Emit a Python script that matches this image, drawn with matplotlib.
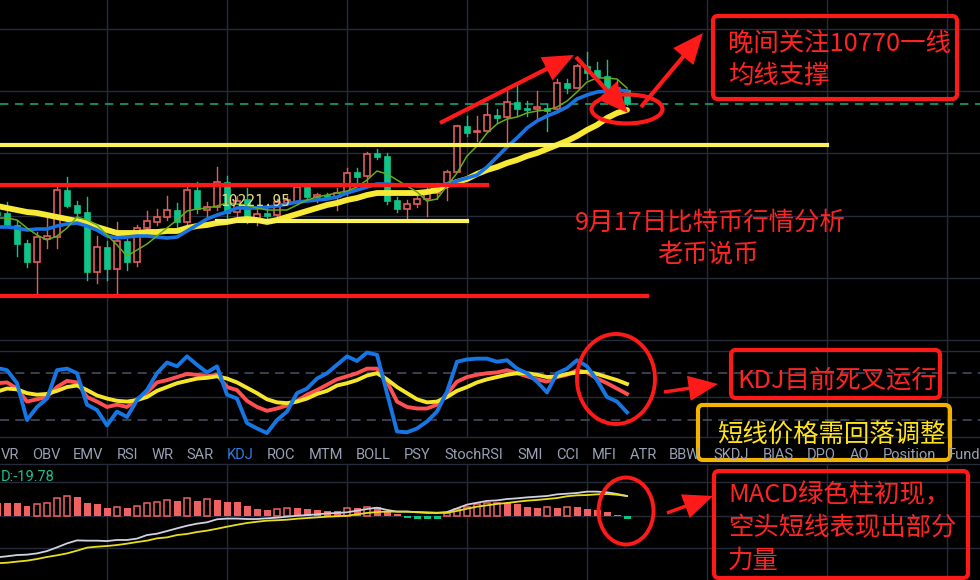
import numpy as np
import matplotlib
matplotlib.use("Agg")
import matplotlib.pyplot as plt
from matplotlib.patches import Rectangle, Ellipse, FancyBboxPatch, FancyArrowPatch

W, H = 980, 580

# ---------------- price data (index -1 .. 62) ----------------
opens = [10190, 10185, 10125, 10035, 9940, 10055, 10065, 10300, 10225, 10190, 9890, 10015, 9905, 10045,
         9940, 10110, 10140, 10165, 10200, 10140, 10300, 10200, 10215, 10340, 10190, 10255, 10150, 10185,
         10175, 10235, 10240, 10315, 10265, 10275, 10265, 10285, 10390, 10370, 10485, 10470, 10250, 10205,
         10230, 10255, 10285, 10325, 10390, 10620, 10590, 10595, 10675, 10665, 10740, 10710, 10705, 10710,
         10705, 10835, 10810, 10920, 10900, 10870, 10790, 10800]
highs = [10200, 10240, 10150, 10050, 10090, 10160, 10325, 10365, 10245, 10265, 10070, 10045, 10140, 10055,
         10125, 10195, 10205, 10270, 10235, 10335, 10340, 10240, 10415, 10370, 10270, 10310, 10205, 10220,
         10255, 10270, 10320, 10320, 10285, 10285, 10310, 10410, 10410, 10490, 10505, 10485, 10265, 10250,
         10270, 10315, 10335, 10400, 10625, 10670, 10670, 10735, 10705, 10795, 10825, 10745, 10795, 10730,
         10855, 10855, 10930, 10990, 10940, 10950, 10850, 10805]
lows = [10160, 10115, 9970, 9915, 9785, 10010, 10010, 10215, 10170, 9850, 9835, 9850, 9775, 9900,
        9920, 10075, 10125, 10150, 10105, 10130, 10185, 10160, 10200, 10150, 10170, 10135, 10125, 10155,
        10160, 10225, 10230, 10255, 10240, 10255, 10200, 10275, 10340, 10340, 10455, 10230, 10190, 10155,
        10215, 10170, 10255, 10250, 10390, 10570, 10545, 10590, 10635, 10535, 10670, 10670, 10655, 10595,
        10700, 10785, 10810, 10855, 10860, 10790, 10775, 10725]
closes = [10175, 10125, 10030, 9940, 10065, 10070, 10300, 10220, 10185, 9890, 10015, 9905, 10045, 9940,
          10110, 10145, 10165, 10200, 10140, 10300, 10205, 10215, 10340, 10185, 10245, 10155, 10180, 10170,
          10240, 10250, 10315, 10265, 10275, 10265, 10285, 10385, 10365, 10480, 10465, 10245, 10205, 10230,
          10255, 10285, 10325, 10390, 10620, 10585, 10595, 10675, 10660, 10740, 10705, 10700, 10715, 10695,
          10835, 10810, 10920, 10885, 10865, 10805, 10810, 10730]

ma5 = [10160, 10160, 10150, 10110, 10075, 10050, 10070, 10110, 10165, 10150, 10125, 10075, 10025, 9970,
       10000, 10030, 10070, 10110, 10150, 10195, 10205, 10210, 10220, 10235, 10230, 10225, 10210, 10200,
       10200, 10200, 10225, 10250, 10265, 10275, 10285, 10295, 10315, 10350, 10395, 10380, 10350, 10320,
       10290, 10245, 10255, 10320, 10385, 10470, 10520, 10585, 10630, 10655, 10665, 10685, 10695, 10700,
       10715, 10745, 10790, 10840, 10860, 10860, 10855, 10810]
ma10 = [10115, 10115, 10110, 10100, 10105, 10105, 10120, 10130, 10135, 10120, 10100, 10070, 10060, 10065,
        10070, 10070, 10065, 10060, 10065, 10095, 10125, 10155, 10175, 10190, 10210, 10210, 10210, 10215,
        10220, 10230, 10240, 10245, 10250, 10255, 10265, 10285, 10300, 10315, 10330, 10330, 10325, 10325,
        10320, 10320, 10320, 10330, 10345, 10360, 10375, 10415, 10465, 10515, 10560, 10610, 10645, 10670,
        10690, 10715, 10755, 10775, 10790, 10795, 10800, 10795]
ma30 = [10220, 10210, 10200, 10190, 10185, 10175, 10165, 10155, 10145, 10135, 10115, 10100, 10085, 10085,
        10085, 10090, 10090, 10095, 10095, 10110, 10120, 10125, 10135, 10140, 10150, 10155, 10150, 10140,
        10150, 10165, 10180, 10195, 10210, 10225, 10235, 10250, 10260, 10275, 10285, 10285, 10285, 10285,
        10285, 10290, 10300, 10325, 10340, 10355, 10380, 10400, 10415, 10435, 10450, 10470, 10485, 10505,
        10525, 10545, 10570, 10600, 10625, 10660, 10685, 10700]

# ---------------- KDJ ----------------
kdj_k = [68, 69, 61, 44, 47, 50, 63, 71, 69, 50, 44, 37, 40, 37, 47, 56, 69, 72, 76, 80, 79, 77, 79, 63,
         59, 45, 37, 32, 35, 39, 45, 53, 59, 66, 73, 77, 81, 87, 87, 70, 44, 37, 35, 35, 40, 54, 70, 76,
         79, 81, 82, 85, 81, 77, 73, 70, 76, 79, 85, 82, 74, 68, 61, 54]
kdj_d = [57, 61, 60, 55, 53, 54, 58, 63, 65, 59, 52, 48, 45, 44, 46, 50, 58, 63, 68, 71, 74, 75, 77, 74,
         69, 62, 55, 47, 43, 42, 44, 48, 54, 58, 65, 68, 72, 78, 81, 73, 63, 55, 47, 43, 44, 50, 58, 63,
         69, 73, 76, 79, 81, 81, 79, 76, 77, 80, 82, 83, 80, 76, 72, 67]
kdj_j = [88, 85, 68, 20, 37, 48, 85, 87, 81, 40, 33, 13, 31, 24, 46, 59, 81, 95, 90, 103, 92, 82, 90, 53,
         48, 16, 9, 3, 20, 31, 55, 61, 74, 81, 92, 103, 97, 108, 105, 55, 5, 4, 9, 18, 31, 57, 96, 99,
         100, 100, 96, 98, 87, 81, 70, 56, 81, 87, 98, 90, 72, 50, 44, 30]

# ---------------- MACD ----------------
macd_hist = [97, 97, 96, 73, 85, 93, 129, 146, 142, 97, 85, 56, 64, 56, 73, 93, 104, 117, 110, 129, 112,
             122, 117, 104, 103, 73, 49, 44, 49, 56, 55, 49, 44, 39, 38, 56, 55, 68, 67, 31, 15, -15, -20,
             -20, -19, 20, 49, 68, 88, 93, 97, 96, 88, 68, 56, 64, 56, 64, 63, 49, 44, 27, 7, -19.78]
macd_dif = [-302, -294, -285, -282, -273, -256, -229, -200, -178, -180, -180, -183, -175, -175, -165, -139,
            -129, -110, -90, -71, -56, -46, -24, -19, -19, -22, -22, -17, -12, -5, 2, 7, 12, 19, 22, 27,
            39, 51, 61, 44, 32, 32, 29, 27, 24, 29, 56, 83, 97, 110, 114, 124, 129, 136, 141, 146, 158,
            163, 168, 178, 178, 173, 161, 146]
macd_dea = [-345, -341, -333, -326, -314, -299, -287, -273, -253, -231, -224, -219, -212, -202, -190, -180,
            -163, -156, -139, -131, -117, -107, -93, -78, -64, -51, -42, -34, -31, -27, -20, -15, -10, -5,
            -2, 2, 12, 22, 29, 32, 32, 32, 27, 22, 22, 24, 37, 53, 68, 78, 88, 95, 104, 112, 117, 124, 131,
            144, 151, 153, 158, 161, 155, 146]

indicator_tabs = ["VR", "OBV", "EMV", "RSI", "WR", "SAR", "KDJ", "ROC", "MTM", "BOLL", "PSY", "StochRSI",
                  "SMI", "CCI", "MFI", "ATR", "BBW", "SKDJ", "BIAS", "DPO", "AO", "Position", "Fund"]
tab_x = [1, 32, 73, 117, 152, 186, 227, 267, 309, 356, 404, 444, 517, 556, 592, 630, 669, 713, 763,
         807, 850, 883, 948]

support_low_label = "10221.95"

# ---------------- styling ----------------
BG = "#000000"
GRID = "#262b3b"
UP = "#e35d5d"
DOWN = "#10c48a"
RED = "#ff1a1a"
TXT_RED = "#ff2424"

plt.rcParams["font.family"] = ["Noto Sans CJK SC", "DejaVu Sans"]

fig = plt.figure(figsize=(W / 100, H / 100), dpi=100, facecolor=BG)

x = np.arange(-1, len(opens) - 1)


def px_axes(top, bottom, z=1):
    a = fig.add_axes([0, 1 - bottom / H, 1, (bottom - top) / H])
    a.set_facecolor("none")
    a.set_axis_off()
    a.set_zorder(z)
    a.set_xlim(-0.7, 97.3)
    return a


def pix(a):
    a.set_xlim(0, W)
    a.set_ylim(H, 0)


# background grid layer
bg = fig.add_axes([0, 0, 1, 1])
bg.set_facecolor(BG)
bg.set_axis_off()
pix(bg)
bg.set_zorder(0)
for gx in [107, 227, 347, 467, 587, 707, 827, 947]:
    bg.plot([gx, gx], [0, 437], color=GRID, lw=1)
    bg.plot([gx, gx], [464, 580], color=GRID, lw=1)
for gy in [29, 91, 153, 216, 278, 340, 351, 397, 437, 464, 482, 516, 548]:
    bg.plot([0, W], [gy, gy], color=GRID, lw=1)
for gy in [373, 420]:
    bg.plot([0, W], [gy, gy], color="#4a5068", lw=1.1, dashes=(6, 4))

# ---------------- candlestick panel ----------------
ax = px_axes(0, 341)
ax.set_ylim(11250 - 5 * 341, 11250)


def ix(px):
    return (px - 7) / 10.0


for xi, o, h, l, c in zip(x, opens, highs, lows, closes):
    up = c >= o
    col = UP if up else DOWN
    lo_b, hi_b = min(o, c), max(o, c)
    ax.plot([xi, xi], [l, lo_b], color=col, lw=1, zorder=2)
    ax.plot([xi, xi], [hi_b, h], color=col, lw=1, zorder=2)
    body = max(hi_b - lo_b, 4)
    if up:
        ax.add_patch(Rectangle((xi - 0.28, lo_b), 0.56, body, facecolor=BG, edgecolor=col, lw=1.2, zorder=3))
    else:
        ax.add_patch(Rectangle((xi - 0.3, lo_b), 0.6, body, facecolor=col, edgecolor=col, lw=0.5, zorder=3))

ax.plot(x, ma30, color="#f8ea34", lw=4.2, zorder=4, solid_capstyle="round")
ax.plot(x, ma10, color="#1874e2", lw=2.6, zorder=5, solid_capstyle="round")
ax.plot(x, ma5, color="#64ad18", lw=1.1, zorder=6)

# last price line
ax.plot([-0.7, 97.3], [closes[-1], closes[-1]], color="#13a275", lw=1.2, dashes=(5, 4), zorder=1)

# support / resistance levels
ax.plot([-0.7, ix(827)], [10525, 10525], color="#fbf25a", lw=3, zorder=7)
ax.plot([-0.7, ix(487)], [10325, 10325], color=RED, lw=3, zorder=7)
ax.plot([ix(217), ix(467)], [10145, 10145], color="#fbf25a", lw=3, zorder=7)
ax.plot([-0.7, ix(647)], [9770, 9770], color=RED, lw=3, zorder=7)

# ---------------- KDJ panel ----------------
kx = px_axes(341, 437)
kx.set_ylim(50 - 40 / 0.767, 50 + 56 / 0.767)
kx.plot(x, kdj_k, color="#ff4f52", lw=2.8, solid_joinstyle="round")
kx.plot(x, kdj_d, color="#f6e62a", lw=2.8, solid_joinstyle="round")
kx.plot(x, kdj_j, color="#1677e4", lw=2.8, solid_joinstyle="round")

# ---------------- MACD panel ----------------
mx = px_axes(464, 580)
mx.set_ylim((516 - 580) * 7.3, (516 - 464) * 7.3)
prev = None
for xi, v in zip(x, macd_hist):
    if v >= 0:
        hollow = prev is not None and v > prev
        if hollow:
            mx.add_patch(Rectangle((xi - 0.32, 0), 0.64, v, facecolor=BG, edgecolor="#ee6262", lw=1.1, zorder=2))
        else:
            mx.add_patch(Rectangle((xi - 0.35, 0), 0.7, v, facecolor="#ee6262", edgecolor="none", zorder=2))
    else:
        mx.add_patch(Rectangle((xi - 0.35, v), 0.7, -v, facecolor="#10c48a", edgecolor="none", zorder=2))
    prev = v
mx.plot(x, macd_dif, color="#cfd2e2", lw=1.3, zorder=3)
mx.plot(x, macd_dea, color="#e8de1c", lw=1.3, zorder=3)

# ---------------- annotation layer ----------------
ov = fig.add_axes([0, 0, 1, 1])
ov.set_facecolor("none")
ov.set_axis_off()
pix(ov)
ov.set_zorder(5)

for name, tx in zip(indicator_tabs, tab_x):
    ov.text(tx, 455, name, fontsize=10.5, family=["Roboto", "DejaVu Sans"],
            color="#2f7de1" if name == "KDJ" else "#9aa0b4", ha="left", va="center")

ov.text(1, 477, f"D:{macd_hist[-1]:.2f}", fontsize=10.5, family=["Roboto", "DejaVu Sans"],
        color="#1fbf8c", ha="left", va="center")

ov.text(220, 202, support_low_label, fontsize=10.5, family=["DejaVu Sans Mono"],
        color="#e2db7c", ha="left", va="center", zorder=8)


def arrow(p0, p1, lw=3, hl=1.4, hw=0.6, ms=12):
    ov.add_patch(FancyArrowPatch(p0, p1, arrowstyle=f"-|>,head_length={hl},head_width={hw}",
                                 mutation_scale=ms, color=RED, lw=lw, shrinkA=0, shrinkB=0,
                                 joinstyle="miter", capstyle="butt"))


arrow((440, 123), (574, 55))
arrow((576, 57), (628, 113))
arrow((641, 107), (703, 33))
arrow((664, 392), (718, 384), lw=2.5)
arrow((667, 513), (713, 496), lw=2.5)

ov.add_patch(Ellipse((627, 109), 71, 29, fill=False, ec=RED, lw=3))
ov.add_patch(Ellipse((616, 379), 78, 90, fill=False, ec=RED, lw=2.8))
ov.add_patch(Ellipse((626, 511), 55, 67, fill=False, ec=RED, lw=2.8))

ov.add_patch(FancyBboxPatch((713, 16), 244, 83, boxstyle="round,pad=0,rounding_size=5",
                            fill=False, ec=RED, lw=3))
ov.add_patch(FancyBboxPatch((731, 350), 209, 48, boxstyle="round,pad=0,rounding_size=5",
                            fill=False, ec=RED, lw=3))
ov.add_patch(FancyBboxPatch((698, 405), 252, 55, boxstyle="round,pad=0,rounding_size=5",
                            fill=False, ec="#f2b400", lw=3))
ov.add_patch(FancyBboxPatch((714, 471), 254, 107, boxstyle="round,pad=0,rounding_size=5",
                            fill=False, ec=RED, lw=3))

cjk = dict(fontsize=18.3, color=TXT_RED, va="center")
ov.text(728, 45, "晚间关注10770一线", ha="left", **cjk)
ov.text(728, 76, "均线支撑", ha="left", **cjk)
ov.text(710, 223, "9月17日比特币行情分析", ha="center", **cjk)
ov.text(708, 255, "老币说币", ha="center", **cjk)
ov.text(737, 381, "KDJ目前死叉运行", ha="left", **cjk)
ov.text(717, 435, "短线价格需回落调整", ha="left", fontsize=18.3, color="#ffe31a", va="center")
ov.text(728, 495, "MACD绿色柱初现，", ha="left", **cjk)
ov.text(728, 528, "空头短线表现出部分", ha="left", **cjk)
ov.text(728, 561, "力量", ha="left", **cjk)

fig.savefig("out.png", dpi=100, facecolor=BG)
